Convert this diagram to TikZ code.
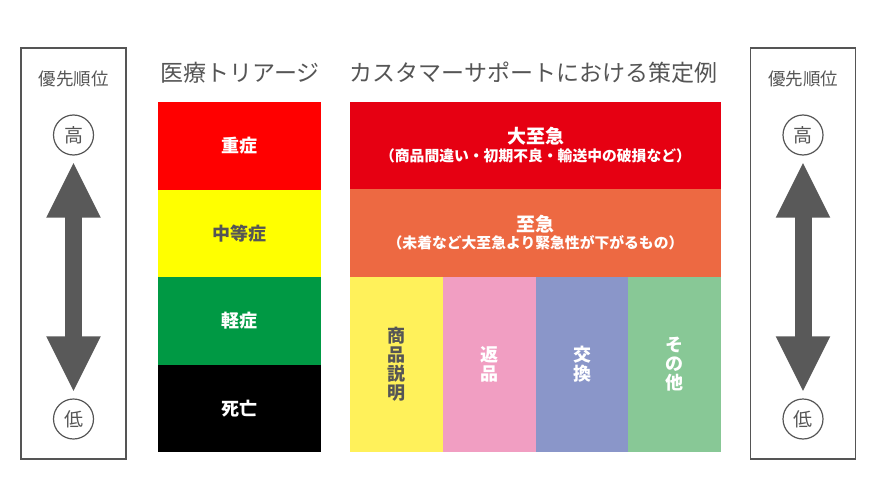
\documentclass[tikz,border=0pt]{standalone}
\usepackage{fontspec}
\setmainfont{Noto Sans CJK JP}
\usetikzlibrary{arrows.meta}
\definecolor{txtgray}{HTML}{555555}
\definecolor{arrgray}{HTML}{595959}
\definecolor{trred}{HTML}{FF0000}
\definecolor{tryellow}{HTML}{FFFF00}
\definecolor{trgreen}{HTML}{009944}
\definecolor{csred}{HTML}{E60012}
\definecolor{csorange}{HTML}{ED6942}
\definecolor{csyellow}{HTML}{FFF15A}
\definecolor{cspink}{HTML}{F19EC2}
\definecolor{csblue}{HTML}{8A96C9}
\definecolor{csgreen}{HTML}{88C896}

\begin{document}
\begin{tikzpicture}[x=1pt, y=-1pt,
  panel/.style={draw=txtgray, line width=1.6pt, minimum width=105, minimum height=411, inner sep=0},
  prio/.style={text=txtgray, font=\fontsize{17.5}{19}\selectfont},
  lvl/.style={circle, draw=txtgray, line width=1.2pt, minimum size=40, inner sep=0,
    text=txtgray, font=\fontsize{19}{20}\selectfont},
  dblarrow/.style={arrgray, line width=17pt, shorten <=6pt, shorten >=6pt,
    {Triangle[length=56pt, width=50pt]}-{Triangle[length=56pt, width=50pt]}},
  title/.style={text=txtgray, font=\fontsize{23}{26}\selectfont},
  box/.style={inner sep=0, text=white, align=center, font=\fontsize{18}{20}\selectfont\bfseries},
  colbox/.style={box, minimum width=93, minimum height=175, font=\fontsize{18}{19}\selectfont\bfseries},
]
\useasboundingbox (0,0) rectangle (880,500);

% =========== LEFT PANEL: priority ===========
\node[panel] (lpanel) at (73.5,253.5) {};
\node[prio] (lprio) at (73.5,79) {優先順位};
\node[lvl] (lhigh) at (73.5,135) {高};
\node[lvl] (llow) at (73.5,419) {低};
\draw[dblarrow] (lhigh) -- (llow);

% =========== TRIAGE COLUMN ===========
\node[title] (ttitle) at (240,73) {医療トリアージ};
\node[box, fill=trred, minimum width=163, minimum height=88] (severe) at (239.5,146) {重症};
\node[box, fill=tryellow, text=txtgray, minimum width=163, minimum height=87] (moderate) at (239.5,233.5) {中等症};
\node[box, fill=trgreen, minimum width=163, minimum height=88] (mild) at (239.5,321) {軽症};
\node[box, fill=black, minimum width=163, minimum height=87] (dead) at (239.5,408.5) {死亡};

% =========== CUSTOMER SUPPORT ===========
\node[title] (ctitle) at (533.5,73) {カスタマーサポートにおける策定例};
\node[box, fill=csred, minimum width=371, minimum height=87] (urgent) at (535.5,145.5)
  {\fontsize{19}{22}\selectfont 大至急\\[-2pt]
   {\fontsize{14.8}{16}\selectfont （商品間違い・初期不良・輸送中の破損など）}};
\node[box, fill=csorange, minimum width=371, minimum height=88] (soon) at (535.5,233)
  {\fontsize{19}{22}\selectfont 至急\\[-3pt]
   {\fontsize{14.8}{16}\selectfont （未着など大至急より緊急性が下がるもの）}};

% Four categories
\node[colbox, fill=csyellow, text=txtgray] (explain) at (396.5,364.5) {商\\品\\説\\明};
\node[colbox, fill=cspink] (refund) at (489,364.5) {返\\品};
\node[colbox, fill=csblue] (swap) at (582,364.5) {交\\換};
\node[colbox, fill=csgreen] (other) at (674.5,364.5) {そ\\の\\他};

% =========== RIGHT PANEL: priority ===========
\node[panel] (rpanel) at (803,253.5) {};
\node[prio] (rprio) at (803,79) {優先順位};
\node[lvl] (rhigh) at (803,135) {高};
\node[lvl] (rlow) at (803,419) {低};
\draw[dblarrow] (rhigh) -- (rlow);

\end{tikzpicture}
\end{document}
